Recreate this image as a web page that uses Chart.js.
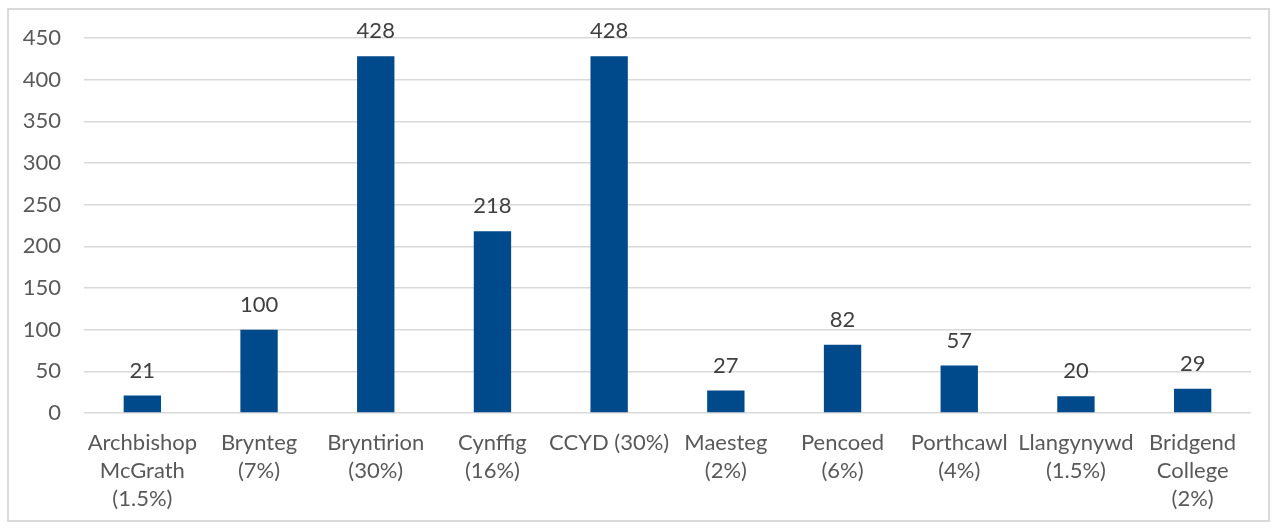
<!DOCTYPE html>
<html>
<head>
<meta charset="utf-8">
<script src="https://cdn.jsdelivr.net/npm/chart.js@4/dist/chart.umd.min.js"></script>
<style>
  html, body { margin: 0; padding: 0; background: #fff; }
  #box {
    position: absolute; left: 7px; top: 8px;
    width: 1259px; height: 510px;
    border: 2px solid #d9d9d9;
  }
</style>
</head>
<body>
<div id="box"><canvas id="schoolsChart"></canvas></div>
<script>
// Data
const categories = [
    ['Archbishop', 'McGrath', '(1.5%)'],
    ['Brynteg', '(7%)'],
    ['Bryntirion', '(30%)'],
    ['Cynffig', '(16%)'],
    'CCYD (30%)',
    ['Maesteg', '(2%)'],
    ['Pencoed', '(6%)'],
    ['Porthcawl', '(4%)'],
    ['Llangynywd', '(1.5%)'],
    ['Bridgend', 'College', '(2%)']
];
const pupils = [21, 100, 428, 218, 428, 27, 82, 57, 20, 29];
const yTicks = [0, 50, 100, 150, 200, 250, 300, 350, 400, 450];

const FONT = 'Lato, "Open Sans", sans-serif';

// draws the value above each bar
const valueLabels = {
    id: 'valueLabels',
    afterDatasetsDraw(chart) {
        const ctx = chart.ctx;
        const meta = chart.getDatasetMeta(0);
        ctx.save();
        ctx.font = '22px ' + FONT;
        ctx.fillStyle = '#404040';
        ctx.textAlign = 'center';
        ctx.textBaseline = 'bottom';
        meta.data.forEach(function(bar, i) {
            ctx.fillText(String(pupils[i]), bar.x, bar.y - 14);
        });
        ctx.restore();
    }
};

document.addEventListener('DOMContentLoaded', function() {
    const ctx = document.getElementById('schoolsChart').getContext('2d');
    new Chart(ctx, {
        type: 'bar',
        data: {
            labels: categories,
            datasets: [{
                data: pupils,
                backgroundColor: '#004a8c',
                barPercentage: 0.32,
                categoryPercentage: 1
            }]
        },
        options: {
            responsive: true,
            maintainAspectRatio: false,
            animation: false,
            layout: { padding: { top: 28, right: 17, bottom: 0, left: 0 } },
            plugins: {
                legend: { display: false },
                tooltip: { enabled: false }
            },
            scales: {
                x: {
                    grid: { display: false, drawTicks: false },
                    border: { display: false },
                    ticks: {
                        color: '#595959',
                        font: { family: FONT, size: 22, lineHeight: 1.27 },
                        padding: 16,
                        maxRotation: 0,
                        autoSkip: false
                    },
                    afterFit: function(scale) {
                        scale.height = 107;
                        scale.paddingLeft = 0;
                        scale.paddingRight = 0;
                    }
                },
                y: {
                    min: 0,
                    max: 450,
                    afterBuildTicks: function(scale) {
                        scale.ticks = yTicks.map(v => ({ value: v }));
                    },
                    grid: { color: '#d9d9d9', lineWidth: 1.5, drawTicks: false },
                    border: { display: false },
                    ticks: {
                        color: '#595959',
                        font: { family: FONT, size: 22 },
                        padding: 23
                    },
                    afterFit: function(scale) {
                        scale.width = 75;
                        scale.paddingTop = 0;
                        scale.paddingBottom = 0;
                    }
                }
            }
        },
        plugins: [valueLabels]
    });
});
</script>
</body>
</html>
